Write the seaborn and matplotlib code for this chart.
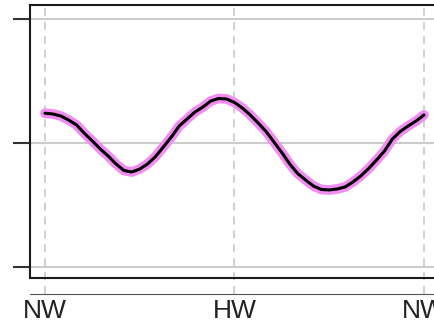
import numpy as np
import pandas as pd
import matplotlib
matplotlib.use('Agg')
import matplotlib.pyplot as plt
import seaborn as sns

# Datos (horas de la marea cada 15 min, nivel relativo)
horas = [i * 0.25 for i in range(49)]
nivel = [0.240, 0.234, 0.218, 0.185, 0.145, 0.077, 0.016, -0.048, -0.105, -0.169,
         -0.222, -0.234, -0.210, -0.169, -0.109, -0.032, 0.048, 0.137, 0.194, 0.250,
         0.290, 0.339, 0.359, 0.355, 0.327, 0.282, 0.226, 0.161, 0.093, 0.008,
         -0.077, -0.169, -0.246, -0.298, -0.347, -0.375, -0.379, -0.371, -0.355, -0.315,
         -0.266, -0.206, -0.137, -0.065, 0.032, 0.093, 0.137, 0.177, 0.226]
xticks = [0, 6, 12]
xlabels = ['NW', 'HW', 'NW']
yticks = [-1, 0, 1]

df = pd.DataFrame({'hora': horas, 'nivel': nivel})

sns.set_style('white')
plt.rcParams['font.family'] = ['Liberation Sans', 'DejaVu Sans']

fig = plt.figure(figsize=(4.35, 3.26), dpi=100)
# ejes: izquierda en x=30 px, arriba en y=5 px, abajo en y=294 px
ax = fig.add_axes([30 / 435, (326 - 294) / 326, 1 - 30 / 435, (294 - 5) / 326])

sns.lineplot(data=df, x='hora', y='nivel', ax=ax, color='#f28cf2', lw=7,
             solid_capstyle='round', solid_joinstyle='round', zorder=3)
sns.lineplot(data=df, x='hora', y='nivel', ax=ax, color='black', lw=2.2,
             solid_joinstyle='round', zorder=4)

ax.set_xlim(-0.475, 12.35)
ax.set_ylim(-1.218, 1.113)

ax.set_xticks(xticks)
ax.set_xticklabels(xlabels)
ax.set_yticks(yticks)
ax.set_yticklabels([])
ax.set_xlabel('')
ax.set_ylabel('')

# rejilla
for y in yticks:
    ax.axhline(y, color='#cccccc', lw=1.5, zorder=1)
for x in xticks:
    ax.axvline(x, color='#c4c4c4', lw=1.1, dashes=(5.2, 3.9), zorder=1)

# línea negra inferior del recuadro
ax.axhline(-1.089, color='#1a1a1a', lw=1.5, zorder=2)

ax.spines['right'].set_visible(False)
ax.spines['top'].set_color('#1a1a1a')
ax.spines['top'].set_linewidth(1.5)
ax.spines['left'].set_color('#1a1a1a')
ax.spines['left'].set_linewidth(1.5)
ax.spines['left'].set_bounds(-1.089, 1.113)
ax.spines['bottom'].set_color('#555555')
ax.spines['bottom'].set_linewidth(0.8)

ax.tick_params(axis='y', length=12.2, width=1.5, color='#333333', direction='out', left=True)
ax.tick_params(axis='x', length=0, pad=3.5, labelsize=19, labelcolor='#222222')

fig.savefig('out.png', dpi=100)
